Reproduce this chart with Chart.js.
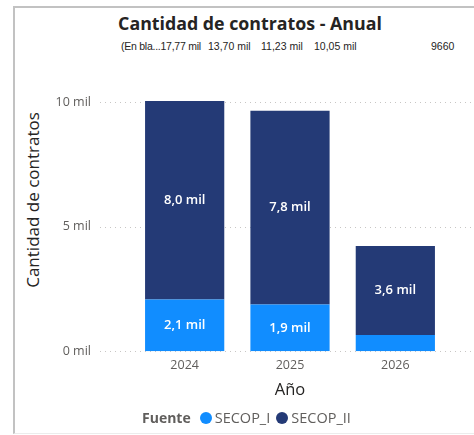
<!DOCTYPE html>
<html lang="es">
<head>
  <meta charset="UTF-8" />
  <title>Cantidad de contratos - Anual</title>
  <script src="https://cdn.jsdelivr.net/npm/chart.js"></script>
  <style>
    * { margin: 0; padding: 0; box-sizing: border-box; }
    body { width: 474px; height: 435px; background: #fff; position: relative; overflow: hidden;
           font-family: 'Segoe UI', 'Open Sans', sans-serif; }
    .card { position: absolute; left: 13px; top: 6px; width: 480px; height: 428px;
            border-left: 2px solid #c2c2c2; border-top: 2px solid #c2c2c2; border-bottom: 1px solid #ececec; }
    .title { position: absolute; left: 0; width: 500px; top: 11px; text-align: center;
             font-size: 17.8px; font-weight: 700; color: #252423; }
    .sub { position: absolute; top: 40px; white-space: nowrap;
           font-family: 'Liberation Sans', Arial, sans-serif; font-size: 10.5px; color: #252423; }
    .ytitle { position: absolute; left: 32px; top: 200px; width: 0; height: 0; }
    .ytitle span { position: absolute; transform: translate(-50%, -50%) rotate(-90deg);
                   white-space: nowrap; font-size: 17px; color: #252423; }
    .wrap { position: absolute; left: 0; top: 0; width: 474px; height: 435px; }
    .legend { position: absolute; left: 142px; top: 408px; font-size: 14.5px; color: #605e5c;
              display: flex; align-items: center; white-space: nowrap; }
    .legend b { color: #605e5c; margin-right: 9px; font-size: 14px; }
    .legend .dot { width: 12px; height: 12px; border-radius: 50%; display: inline-block; margin-right: 3px; }
    .legend span.item { margin-right: 6px; display: flex; align-items: center; }
  </style>
</head>
<body>
  <div class="card"></div>
  <div class="title">Cantidad de contratos - Anual</div>
  <div class="sub" style="left:121px; letter-spacing:-0.25px">(En bla...17,77 mil</div>
  <div class="sub" style="left:208px">13,70 mil</div>
  <div class="sub" style="left:261px">11,23 mil</div>
  <div class="sub" style="left:314px">10,05 mil</div>
  <div class="sub" style="left:431px">9660</div>
  <div class="ytitle"><span>Cantidad de contratos</span></div>
  <div class="wrap"><canvas id="chart"></canvas></div>
  <div class="legend">
    <b>Fuente</b>
    <span class="item"><i class="dot" style="background:#118dff"></i>SECOP_I</span>
    <span class="item"><i class="dot" style="background:#243a76"></i>SECOP_II</span>
  </div>

  <script>
    const years = ['2024', '2025', '2026'];
    const secopI = [2080, 1880, 650];
    const secopII = [7970, 7780, 3580];
    const yTicks = [0, 5000, 10000];

    const blue = '#118dff';
    const navy = '#243a76';

    const fmtMil = v => (v / 1000).toFixed(1).replace('.', ',') + ' mil';

    // dotted gridlines that run past the plot area like in Power BI
    const dottedGrid = {
      id: 'dottedGrid',
      beforeDatasetsDraw(chart) {
        const ctx = chart.ctx, y = chart.scales.y;
        ctx.save();
        ctx.strokeStyle = '#c8c6c4';
        ctx.lineWidth = 1;
        ctx.setLineDash([1, 4]);
        yTicks.forEach(t => {
          const py = Math.round(y.getPixelForValue(t)) + 0.5;
          ctx.beginPath();
          ctx.moveTo(100, py);
          ctx.lineTo(chart.width, py);
          ctx.stroke();
        });
        ctx.restore();
      }
    };

    const barLabels = {
      id: 'barLabels',
      afterDatasetsDraw(chart) {
        const ctx = chart.ctx;
        ctx.save();
        ctx.fillStyle = '#ffffff';
        ctx.font = '600 13px "Segoe UI", "Open Sans", sans-serif';
        ctx.textAlign = 'center';
        ctx.textBaseline = 'middle';
        chart.data.datasets.forEach((ds, i) => {
          chart.getDatasetMeta(i).data.forEach((bar, j) => {
            if (Math.abs(bar.base - bar.y) < 22) return;
            ctx.fillText(fmtMil(ds.data[j]), bar.x, (bar.y + bar.base) / 2);
          });
        });
        ctx.restore();
      }
    };

    new Chart(document.getElementById('chart'), {
      type: 'bar',
      data: {
        labels: years,
        datasets: [
          { label: 'SECOP_I', data: secopI, backgroundColor: blue, borderWidth: 0,
            categoryPercentage: 1, barPercentage: 0.752 },
          { label: 'SECOP_II', data: secopII, backgroundColor: navy, borderWidth: 0,
            categoryPercentage: 1, barPercentage: 0.752 }
        ]
      },
      options: {
        responsive: true,
        maintainAspectRatio: false,
        animation: false,
        layout: { padding: { left: 18, right: 26, top: 101, bottom: 35 } },
        plugins: { legend: { display: false }, tooltip: { enabled: false } },
        scales: {
          x: {
            stacked: true,
            grid: { display: false, drawTicks: false },
            border: { display: false },
            ticks: { color: '#605e5c', padding: 7, font: { size: 12.5, family: '"Segoe UI", "Open Sans", sans-serif' } },
            title: { display: true, text: 'Año', color: '#252423', padding: { top: 0, bottom: 0 },
                     font: { size: 16.5, family: '"Segoe UI", "Open Sans", sans-serif' } }
          },
          y: {
            stacked: true,
            min: 0,
            max: 10050,
            afterBuildTicks: s => { s.ticks = yTicks.map(v => ({ value: v })); },
            afterFit: s => { s.width = 114; },
            grid: { display: false, drawTicks: false },
            border: { display: false },
            ticks: { color: '#605e5c', padding: 41, callback: v => (v / 1000) + ' mil',
                     font: { size: 12.5, family: '"Segoe UI", "Open Sans", sans-serif' } }
          }
        }
      },
      plugins: [dottedGrid, barLabels]
    });
  </script>
</body>
</html>
